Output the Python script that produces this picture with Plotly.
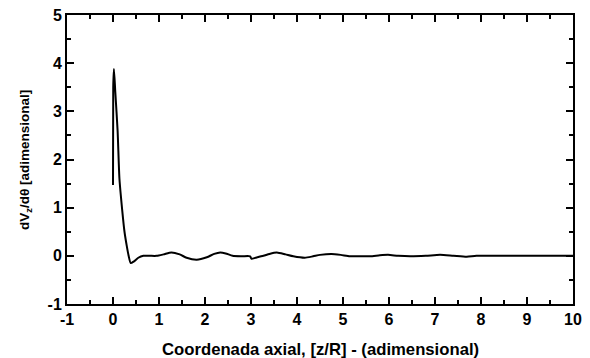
import plotly.graph_objects as go

z_axial = [0.0, 0.005, 0.02, 0.05, 0.1, 0.14, 0.2, 0.25, 0.3, 0.34, 0.385, 0.45, 0.55, 0.66, 0.8, 0.95,
           1.1, 1.27, 1.45, 1.6, 1.82, 2.04, 2.2, 2.33, 2.45, 2.6, 2.8, 2.98, 3.01, 3.1, 3.27, 3.4,
           3.56, 3.75, 3.92, 4.17, 4.35, 4.5, 4.75, 4.95, 5.15, 5.37, 5.59, 5.8, 5.98, 6.2, 6.46,
           6.8, 7.11, 7.4, 7.69, 7.9, 8.5, 9.0, 9.5, 10.0]
dvz_dtheta = [1.47, 3.5, 3.88, 3.4, 2.6, 1.6, 0.95, 0.5, 0.2, 0.0, -0.15, -0.12, -0.04, 0.0, 0.0, 0.0,
              0.03, 0.07, 0.03, -0.04, -0.08, -0.03, 0.04, 0.07, 0.05, 0.0, -0.01, -0.01, -0.06, -0.04, 0.0, 0.04,
              0.07, 0.03, -0.01, -0.04, -0.01, 0.02, 0.04, 0.02, -0.01, -0.01, -0.01, 0.01, 0.02, 0.0, -0.01,
              0.0, 0.02, 0.0, -0.02, 0.0, 0.0, 0.0, 0.0, 0.0]

x_ticks = list(range(-1, 11))
y_ticks = list(range(-1, 6))

# page body has an 8px margin; target plot area in screen px: x 67..573, y 15..304
OFF = 8
PL, PR, PT, PB = 67, 573, 15, 304
W, H = 590 - OFF, 358 - OFF

fig = go.Figure()
fig.add_trace(go.Scatter(x=z_axial, y=dvz_dtheta, mode="lines",
                         line=dict(color="black", width=2, shape="spline", smoothing=0.6),
                         showlegend=False))

fam = "Liberation Sans, Arial, sans-serif"
axis_common = dict(showline=True, linecolor="black", linewidth=2, mirror="ticks",
                   ticks="inside", ticklen=7, tickwidth=2, tickcolor="black",
                   showgrid=False, zeroline=False, automargin=False,
                   ticklabeloverflow="allow",
                   tickfont=dict(family=fam, size=16, color="black", weight="bold"))

fig.update_layout(
    width=W, height=H,
    margin=dict(l=PL - OFF, r=W - (PR - OFF), t=PT - OFF, b=H - (PB - OFF)),
    paper_bgcolor="white", plot_bgcolor="white",
    font=dict(family=fam, size=16, color="black"),
    xaxis=dict(range=[-1, 10], tickvals=x_ticks, ticktext=[str(v) for v in x_ticks],
               minor=dict(ticks="inside", dtick=0.5, tick0=0, ticklen=4, tickwidth=2, tickcolor="black"),
               **axis_common),
    yaxis=dict(range=[-1, 5], tickvals=y_ticks, ticktext=[str(v) for v in y_ticks],
               minor=dict(ticks="inside", dtick=0.5, tick0=0, ticklen=4, tickwidth=2, tickcolor="black"),
               **axis_common),
)

pw, ph = PR - PL, PB - PT
fig.add_annotation(text="Coordenada axial, [z/R] - (adimensional)",
                   x=(320 - PL) / pw, y=(PB - 349) / ph, xref="paper", yref="paper",
                   xanchor="center", yanchor="middle",
                   showarrow=False, font=dict(family=fam, size=16.7, weight="bold", color="black"))
fig.add_annotation(text="dV<sub>z</sub>/dθ [adimensional]",
                   x=(25 - PL) / pw, y=(PB - 160) / ph, xref="paper", yref="paper",
                   xanchor="center", yanchor="middle",
                   showarrow=False, textangle=-90,
                   font=dict(family=fam, size=13.5, weight="bold", color="black"))
fig.write_html("out.html")
